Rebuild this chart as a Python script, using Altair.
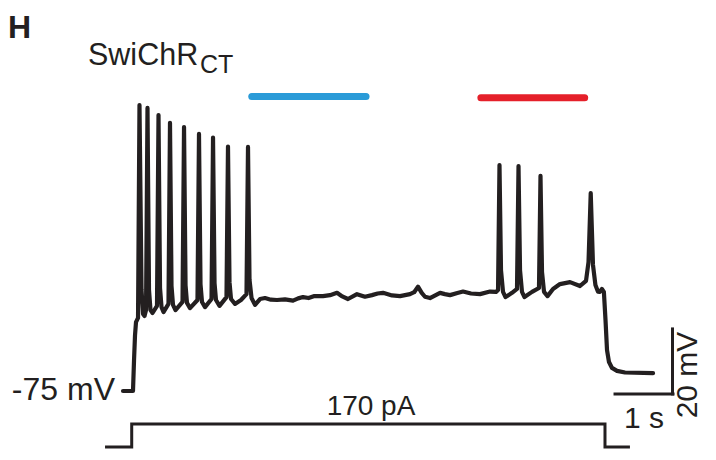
import altair as alt
import pandas as pd

# Membrane potential trace: time (s, from current-step onset) and voltage (mV)
trace_t = [-0.150, 0.022, 0.040, 0.057, 0.074, 0.109, 0.134, 0.169, 0.195, 0.221,
           0.247, 0.272, 0.298, 0.324, 0.359, 0.436, 0.462, 0.488, 0.514, 0.548,
           0.634, 0.660, 0.686, 0.712, 0.755, 0.876, 0.902, 0.928, 0.953, 1.005,
           1.134, 1.160, 1.186, 1.212, 1.264, 1.376, 1.402, 1.428, 1.453, 1.514,
           1.634, 1.660, 1.686, 1.712, 1.781, 1.884, 1.979, 2.005, 2.031, 2.066,
           2.126, 2.212, 2.298, 2.400, 2.505, 2.643, 2.781, 2.870, 2.953, 3.050,
           3.150, 3.298, 3.419, 3.540, 3.630, 3.729, 3.884, 4.022, 4.143, 4.240,
           4.333, 4.488, 4.626, 4.798, 4.870, 4.936, 5.000, 5.057, 5.143, 5.316,
           5.400, 5.488, 5.600, 5.712, 5.850, 6.005, 6.178, 6.281, 6.316, 6.341,
           6.367, 6.402, 6.445, 6.557, 6.643, 6.669, 6.695, 6.729, 6.772, 6.902,
           7.022, 7.048, 7.074, 7.109, 7.169, 7.264, 7.384, 7.557, 7.729, 7.833,
           7.876, 7.914, 7.953, 7.995, 8.038, 8.072, 8.107, 8.141, 8.169, 8.195,
           8.229, 8.281, 8.367, 8.505, 8.988]
trace_v = [-75.0, -75.0, -65.5, -57.8, -53.8, -52.5, 13.0, -43.9, -51.3, -51.9,
           -50.1, 12.1, -43.9, -50.1, -51.0, -48.8, 9.9, -43.3, -49.2, -50.7,
           -48.2, 7.5, -42.7, -48.5, -50.1, -47.6, 6.2, -42.4, -47.9, -49.5,
           -47.0, 4.1, -42.1, -47.6, -49.2, -46.7, 3.0, -41.8, -47.0, -48.8,
           -46.1, 0.2, -41.5, -46.7, -48.2, -47.0, -45.2, 0.1, -40.8, -46.4,
           -48.5, -46.7, -46.4, -46.9, -47.0, -46.8, -47.2, -46.5, -46.1, -46.4,
           -45.8, -45.8, -45.5, -44.8, -45.9, -46.7, -45.2, -46.0, -45.5, -45.0,
           -44.8, -45.6, -45.8, -45.2, -44.6, -42.9, -44.8, -46.0, -46.4, -44.8,
           -45.2, -45.5, -44.9, -44.4, -45.0, -45.2, -44.4, -44.5, -43.9, -5.5,
           -37.8, -44.5, -46.1, -44.8, -43.6, -5.8, -37.8, -44.5, -46.1, -44.5,
           -43.3, -8.8, -38.4, -44.5, -45.8, -43.6, -42.1, -41.5, -42.7, -41.1,
           -35.3, -14.1, -36.2, -42.4, -44.4, -44.5, -43.6, -44.5, -53.2, -62.4,
           -66.1, -67.9, -68.8, -69.3, -69.5]

# Injected current step (pA)
step_t = [-0.46, 0.0, 0.0, 8.16, 8.16, 8.59]
step_i = [0, 0, 170, 170, 0, 0]

# Light stimulation bars
light_name = ["blue", "red"]
light_start = [2.07, 6.02]
light_end = [4.04, 7.81]
light_level = [15.6, 15.2]
light_color = ["#2A9BD8", "#E5202A"]

# Scale bars: 1 s and 20 mV
sb_t = [8.333, 9.324]
sb_t2 = [9.333, 9.324]
sb_v = [-75.9, -75.9]
sb_v2 = [-75.9, -55.9]

T_DOM = [-2.133, 9.936]
V_DOM = [-93.77, 42.85]
I_DOM = [-36.96, 3244.8]
INK = "#231F20"
FONT = "Liberation Sans"

xs = alt.Scale(domain=T_DOM, nice=False, zero=False)
vs = alt.Scale(domain=V_DOM, nice=False, zero=False)

trace_df = pd.DataFrame({"t": trace_t, "v": trace_v, "i": range(len(trace_t))})
step_df = pd.DataFrame({"t": step_t, "pA": step_i, "i": range(len(step_t))})
light_df = pd.DataFrame({"name": light_name, "t0": light_start, "t1": light_end,
                         "v": light_level, "c": light_color})
sb_df = pd.DataFrame({"t": sb_t, "t2": sb_t2, "v": sb_v, "v2": sb_v2})

trace = alt.Chart(trace_df).mark_line(
    color=INK, strokeWidth=4.2, strokeJoin="round", strokeCap="round"
).encode(
    x=alt.X("t:Q", scale=xs, axis=None),
    y=alt.Y("v:Q", scale=vs, axis=None),
    order="i:Q",
)

step = alt.Chart(step_df).mark_line(
    color=INK, strokeWidth=3, strokeJoin="miter"
).encode(
    x=alt.X("t:Q", scale=xs, axis=None),
    y=alt.Y("pA:Q", scale=alt.Scale(domain=I_DOM, nice=False, zero=False), axis=None),
    order="i:Q",
)

lights = alt.Chart(light_df).mark_rule(strokeWidth=7, strokeCap="round").encode(
    x=alt.X("t0:Q", scale=xs, axis=None),
    x2="t1:Q",
    y=alt.Y("v:Q", scale=vs, axis=None),
    color=alt.Color("c:N", scale=None, legend=None),
)

bars = alt.Chart(sb_df).mark_rule(color=INK, strokeWidth=3, strokeCap="square").encode(
    x=alt.X("t:Q", scale=xs, axis=None),
    x2="t2:Q",
    y=alt.Y("v:Q", scale=vs, axis=None),
    y2="v2:Q",
)

def label(txt, x, y, size, align="left", baseline="alphabetic", angle=0, weight="normal"):
    kw = dict(text=txt, font=FONT, fontSize=size, align=align, baseline=baseline,
              color=INK, fontWeight=weight)
    if angle:
        kw["angle"] = angle
    return alt.Chart(pd.DataFrame({"a": [0]})).mark_text(**kw).encode(
        x=alt.value(x), y=alt.value(y))

texts = [
    label("H", 0, 30, 32, weight="bold"),
    label("SwiChR", 80, 57, 30.5),
    label("CT", 192, 65, 25),
    label("-75 mV", 107, 392, 32, align="right"),
    label("170 pA", 363, 407, 28, align="center"),
    label("1 s", 636, 420, 30, align="center"),
    label("20 mV", 689, 367, 30, align="center", angle=270),
]

chart = alt.layer(step, trace, lights, bars, *texts).resolve_scale(
    y="independent"
).properties(
    width=700, height=444, padding=0, autosize="none"
).configure_view(stroke=None)

chart.save("out.html", embed_options={"renderer": "svg", "actions": False})
